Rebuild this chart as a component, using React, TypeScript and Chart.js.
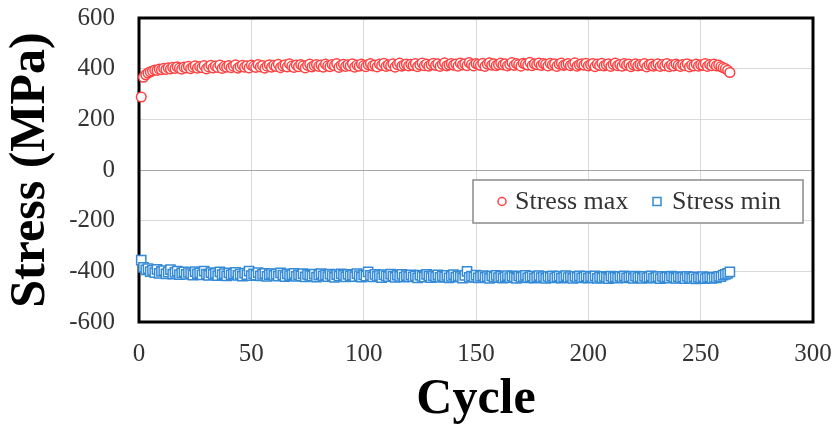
import React, { useEffect, useRef } from 'react';
import { Chart, registerables } from 'chart.js';

Chart.register(...registerables);

const SERIES_NAMES = ['Stress max', 'Stress min'];

const STRESS_MAX = [
  288, 366, 376, 383, 388, 391, 395, 393, 398, 396, 401, 397, 403, 399, 405, 401, 407, 402, 398, 406,
  403, 409, 400, 406, 411, 402, 408, 404, 412, 399, 407, 413, 403, 410, 405, 414, 401, 409, 406, 412,
  404, 410, 415, 402, 408, 413, 406, 411, 403, 414, 409, 405, 416, 407, 412, 402, 410, 415, 406, 413,
  409, 417, 404, 411, 415, 407, 419, 410, 405, 414, 408, 416, 411, 403, 413, 418, 407, 412, 416, 409,
  414, 406, 418, 411, 408, 416, 412, 420, 405, 413, 417, 409, 415, 411, 419, 406, 414, 410, 418, 412,
  408, 416, 420, 411, 414, 407, 418, 413, 421, 409, 415, 412, 419, 406, 416, 422, 410, 414, 418, 411,
  417, 413, 420, 408, 415, 422, 412, 418, 410, 416, 421, 413, 419, 409, 417, 423, 411, 415, 420, 414,
  418, 410, 422, 415, 419, 412, 424, 416, 411, 420, 417, 413, 421, 409, 418, 423, 414, 419, 412, 416,
  422, 415, 419, 411, 417, 424, 413, 420, 416, 410, 421, 418, 414, 425, 412, 419, 416, 422, 413, 420,
  417, 411, 421, 415, 419, 409, 418, 422, 413, 416, 420, 412, 417, 423, 410, 415, 419, 414, 421, 411,
  416, 420, 408, 418, 413, 421, 411, 415, 419, 409, 417, 422, 412, 416, 410, 420, 414, 418, 408, 415,
  419, 411, 416, 413, 420, 407, 415, 418, 410, 414, 419, 409, 416, 412, 420, 408, 415, 411, 418, 413,
  409, 416, 412, 419, 407, 414, 411, 418, 410, 415, 413, 420, 409, 416, 412, 418, 411, 414, 408, 404,
  400, 394, 385,
];

const STRESS_MIN = [
  -356, -384, -394, -389, -401, -396, -405, -392, -408, -400, -397, -410, -403, -393, -411, -404, -399, -413, -406, -402,
  -412, -404, -409, -415, -401, -410, -406, -414, -399, -411, -416, -405, -412, -408, -417, -402, -413, -409, -418, -406,
  -414, -410, -404, -416, -411, -419, -407, -413, -399, -417, -410, -415, -405, -418, -412, -408, -420, -413, -409, -416,
  -411, -419, -406, -415, -421, -410, -417, -413, -408, -420, -414, -418, -409, -422, -412, -416, -419, -411, -423, -415,
  -409, -418, -414, -421, -411, -417, -424, -413, -419, -410, -416, -422, -412, -418, -415, -421, -409, -417, -423, -414,
  -419, -402, -416, -422, -412, -420, -417, -425, -413, -418, -421, -411, -419, -424, -415, -420, -412, -423, -417, -421,
  -414, -422, -418, -426, -415, -420, -423, -412, -419, -425, -417, -421, -414, -424, -418, -422, -416, -426, -420, -413,
  -423, -418, -421, -427, -416, -400, -424, -419, -422, -415, -426, -420, -417, -424, -421, -428, -418, -423, -416, -425,
  -420, -427, -422, -417, -425, -419, -423, -428, -418, -424, -421, -416, -426, -422, -419, -427, -423, -417, -425, -421,
  -428, -420, -424, -418, -426, -422, -419, -427, -423, -417, -425, -421, -428, -420, -424, -418, -426, -423, -419, -427,
  -421, -425, -418, -428, -422, -426, -420, -424, -429, -419, -425, -422, -427, -420, -424, -418, -426, -423, -421, -428,
  -419, -425, -422, -428, -420, -426, -423, -418, -427, -424, -421, -429, -420, -425, -422, -427, -419, -424, -428, -421,
  -426, -423, -429, -420, -425, -428, -422, -430, -424, -427, -421, -429, -425, -423, -428, -424, -426, -420, -421, -415,
  -412, -408, -402,
];

const CYCLES = STRESS_MAX.map((_, i) => i + 1);

const X_TICKS = [0, 50, 100, 150, 200, 250, 300];
const Y_TICKS = [-600, -400, -200, 0, 200, 400, 600];

const RED = 'rgb(255, 64, 64)';
const BLUE = 'rgb(52, 138, 214)';
const FONT = "'Liberation Serif', 'Times New Roman', serif";

export default function App() {
  const ref = useRef<HTMLCanvasElement>(null);

  useEffect(() => {
    document.body.style.margin = '0';
    const canvas = ref.current;
    if (!canvas) return;

    const framePlugin = {
      id: 'frame',
      beforeDatasetsDraw(chart: any) {
        const { ctx, chartArea: a } = chart;
        ctx.save();
        ctx.strokeStyle = '#000';
        ctx.lineWidth = 3;
        ctx.strokeRect(a.left, a.top, a.right - a.left, a.bottom - a.top);
        ctx.restore();
      },
    };

    const legendPlugin = {
      id: 'boxLegend',
      afterDraw(chart: any) {
        const { ctx, chartArea: a } = chart;
        const y0 = chart.scales.y.getPixelForValue(0);
        const w = 330;
        const h = 43;
        const left = a.right - 10 - w;
        const top = y0 + 10;
        ctx.save();
        ctx.fillStyle = '#fff';
        ctx.fillRect(left, top, w, h);
        ctx.strokeStyle = '#8a8a8a';
        ctx.lineWidth = 1.5;
        ctx.strokeRect(left, top, w, h);
        const cy = top + h / 2;
        ctx.font = `26px ${FONT}`;
        ctx.textBaseline = 'middle';
        ctx.textAlign = 'left';
        const ds = chart.data.datasets;
        ctx.beginPath();
        ctx.arc(left + 29, cy, 4, 0, Math.PI * 2);
        ctx.fillStyle = '#fff';
        ctx.fill();
        ctx.strokeStyle = ds[0].borderColor;
        ctx.lineWidth = 1.5;
        ctx.stroke();
        ctx.fillStyle = '#333';
        ctx.fillText(ds[0].label, left + 42, cy + 1);
        ctx.fillStyle = '#fff';
        ctx.fillRect(left + 180, cy - 4, 8, 8);
        ctx.strokeStyle = ds[1].borderColor;
        ctx.strokeRect(left + 180, cy - 4, 8, 8);
        ctx.fillStyle = '#333';
        ctx.fillText(ds[1].label, left + 199, cy + 1);
        ctx.restore();
      },
    };

    const chart = new Chart(canvas, {
      type: 'scatter',
      data: {
        datasets: [
          {
            label: SERIES_NAMES[0],
            data: CYCLES.map((c, i) => ({ x: c, y: STRESS_MAX[i] })),
            pointStyle: 'circle',
            pointRadius: 4.8,
            borderWidth: 1.5,
            borderColor: RED,
            backgroundColor: '#fff',
            showLine: false,
            clip: false,
          },
          {
            label: SERIES_NAMES[1],
            data: CYCLES.map((c, i) => ({ x: c, y: STRESS_MIN[i] })),
            pointStyle: 'rect',
            pointRadius: 6.5,
            borderWidth: 1.5,
            borderColor: BLUE,
            backgroundColor: '#fff',
            showLine: false,
            clip: false,
          },
        ],
      },
      options: {
        animation: false,
        responsive: false,
        layout: { padding: { top: 18, right: 20, left: 0, bottom: 0 } },
        plugins: {
          legend: { display: false },
          tooltip: { enabled: false },
        },
        scales: {
          x: {
            type: 'linear',
            min: 0,
            max: 300,
            afterBuildTicks: (s: any) => {
              s.ticks = X_TICKS.map((v) => ({ value: v }));
            },
            afterFit: (s: any) => {
              s.height = 110;
              s.paddingLeft = 0;
              s.paddingRight = 0;
            },
            ticks: {
              font: { family: FONT, size: 25 },
              color: '#333',
              padding: 17,
              maxRotation: 0,
              autoSkip: false,
            },
            grid: { color: '#d9d9d9', lineWidth: 1, drawTicks: false },
            border: { display: false },
            title: {
              display: true,
              text: 'Cycle',
              font: { family: FONT, size: 50, weight: 'bold' },
              color: '#000',
              padding: { top: 0, bottom: 2 },
            },
          },
          y: {
            type: 'linear',
            min: -600,
            max: 600,
            afterBuildTicks: (s: any) => {
              s.ticks = Y_TICKS.map((v) => ({ value: v }));
            },
            afterFit: (s: any) => {
              s.width = 139;
              s.paddingTop = 0;
              s.paddingBottom = 0;
            },
            ticks: {
              font: { family: FONT, size: 25 },
              color: '#333',
              padding: 24,
              autoSkip: false,
            },
            grid: {
              color: (ctx: any) => (ctx.tick && ctx.tick.value === 0 ? '#a6a6a6' : '#d9d9d9'),
              lineWidth: 1,
              drawTicks: false,
            },
            border: { display: false },
            title: {
              display: true,
              text: 'Stress (MPa)',
              font: { family: FONT, size: 50, weight: 'bold' },
              color: '#000',
              padding: { top: 1, bottom: 0 },
            },
          },
        },
      },
      plugins: [framePlugin, legendPlugin],
    });

    return () => chart.destroy();
  }, []);

  return (
    <div style={{ position: 'absolute', left: 0, top: 0, width: 833, height: 432, background: '#fff' }}>
      <canvas ref={ref} width={833} height={432} style={{ display: 'block', width: 833, height: 432 }} />
    </div>
  );
}
